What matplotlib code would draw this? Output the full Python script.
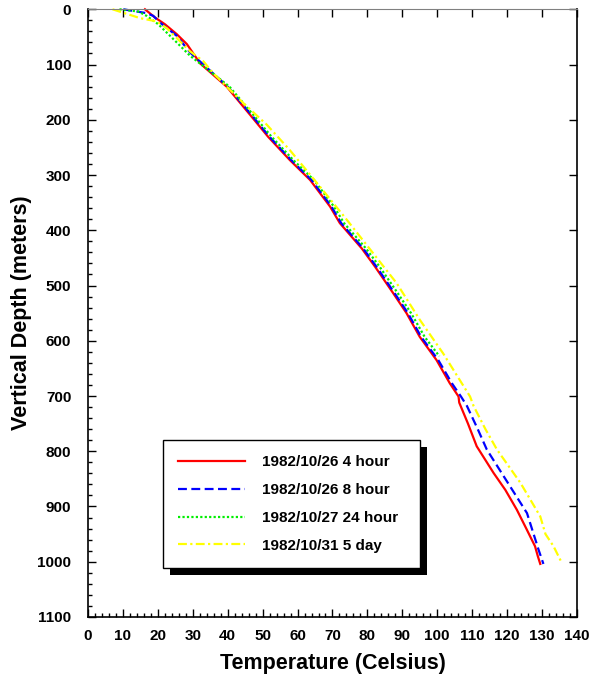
import matplotlib
matplotlib.use("Agg")
import matplotlib.pyplot as plt
from matplotlib.patches import Rectangle
from matplotlib.transforms import IdentityTransform
from matplotlib.ticker import MultipleLocator

plt.rcParams['font.family'] = ['Liberation Sans', 'DejaVu Sans']
plt.rcParams['font.weight'] = 'bold'

labels = ["1982/10/26 4 hour", "1982/10/26 8 hour", "1982/10/27 24 hour", "1982/10/31 5 day"]

red_depth = [0, 15, 27, 45, 63, 98, 140, 191, 231, 273, 309, 357, 387, 433, 466, 514, 550, 593,
             635, 677, 701, 712, 750, 791, 839, 870, 906, 940, 972, 990, 1004]
red_temp = [16.3, 19.2, 22.0, 25.4, 28.3, 32.1, 39.7, 46.4, 51.6, 57.8, 63.6, 69.3, 72.1, 78.4,
            82.2, 87.4, 91.2, 95.0, 99.8, 103.6, 106.1, 106.3, 108.8, 111.3, 116.1, 119.5, 122.8,
            125.5, 128.0, 128.8, 129.5]

blue_depth = [0, 7, 12, 24, 48, 78, 140, 191, 231, 273, 309, 357, 387, 433, 466, 514, 550, 593,
              635, 677, 701, 718, 760, 797, 850, 912, 950, 978, 1004]
blue_temp = [10.1, 16.8, 18.7, 20.6, 25.4, 29.2, 40.0, 46.8, 52.0, 58.2, 64.0, 69.7, 72.5, 78.8,
             82.6, 87.8, 91.6, 95.4, 100.3, 104.2, 106.8, 108.5, 111.6, 114.2, 119.5, 125.7,
             127.6, 129.0, 130.4]

green_depth = [0, 4, 12, 27, 60, 84, 140, 191, 231, 273, 309, 357, 387, 433, 466, 514, 550, 593, 628]
green_temp = [9.0, 14.4, 16.8, 20.1, 25.4, 29.2, 40.5, 47.3, 52.6, 58.8, 64.7, 70.4, 73.3, 79.6,
              83.5, 88.7, 92.5, 96.4, 100.6]

yellow_depth = [0, 16, 22, 34, 52, 76, 94, 116, 170, 209, 255, 321, 381, 442, 496, 562, 623, 701,
                718, 760, 797, 857, 918, 950, 972, 1000]
yellow_temp = [7.0, 14.9, 19.7, 22.5, 25.4, 29.2, 33.0, 35.9, 44.5, 51.2, 57.8, 66.4, 74.1, 81.7,
               88.4, 95.0, 101.7, 109.4, 110.4, 113.8, 117.1, 123.8, 129.5, 131.0, 133.3, 135.5]

fig = plt.figure(figsize=(5.96, 6.78), dpi=100)
ax = fig.add_axes([0.1477, 0.090, 0.8203, 0.8963])

ax.plot(red_temp, red_depth, color='#ff0000', lw=1.6, ls='-', label=labels[0], clip_on=False)
ax.plot(blue_temp, blue_depth, color='#0000ff', lw=1.6, ls=(0, (4, 2)), label=labels[1], clip_on=False)
ax.plot(green_temp, green_depth, color='#00ee00', lw=1.6, ls=(0, (1, 1)), label=labels[2], clip_on=False)
ax.plot(yellow_temp, yellow_depth, color='#ffff00', lw=1.6, ls=(0, (4, 1.5, 1, 1.5)), label=labels[3], clip_on=False)

ax.set_xlim(0, 140)
ax.set_ylim(1100, 0)
ax.xaxis.set_major_locator(MultipleLocator(10))
ax.xaxis.set_minor_locator(MultipleLocator(2))
ax.yaxis.set_major_locator(MultipleLocator(100))
ax.yaxis.set_minor_locator(MultipleLocator(20))

ax.tick_params(axis='both', which='major', direction='in', length=6, width=1, labelsize=11, color='black')
ax.tick_params(axis='both', which='minor', direction='in', length=3, width=1)
ax.tick_params(axis='x', which='major', pad=9, top=True)
ax.tick_params(axis='y', which='major', pad=12, right=True)
ax.tick_params(axis='x', which='minor', top=False)
ax.tick_params(axis='y', which='minor', right=False)
for lab in ax.get_xticklabels() + ax.get_yticklabels():
    lab.set_fontweight('bold')

ax.spines['top'].set_color('#808080')
for s in ['left', 'bottom', 'right']:
    ax.spines[s].set_color('black')
    ax.spines[s].set_linewidth(1.2)

ax.set_xlabel('Temperature (Celsius)', fontsize=15.5, fontweight='bold', labelpad=7)
ax.set_ylabel('Vertical Depth (meters)', fontsize=15.5, fontweight='bold', labelpad=4)

leg = ax.legend(loc='upper left', bbox_to_anchor=(0.153, 0.291, 0.526, 0.0), mode='expand',
                prop={'weight': 'bold', 'size': 11}, frameon=True, fancybox=False,
                framealpha=1.0, facecolor='white',
                handlelength=4.4, handletextpad=1.1, labelspacing=0.9, borderpad=1.0,
                borderaxespad=0.0)
leg.get_frame().set_edgecolor('black')
leg.get_frame().set_linewidth(1.0)
leg.set_zorder(5)

fig.canvas.draw()
bb = leg.get_window_extent()
shadow = Rectangle((bb.x0 + 7, bb.y0 - 7), bb.width, bb.height, transform=IdentityTransform(),
                   facecolor='black', edgecolor='none', zorder=4.9, clip_on=False)
ax.add_patch(shadow)

fig.savefig('out.png', dpi=100)
